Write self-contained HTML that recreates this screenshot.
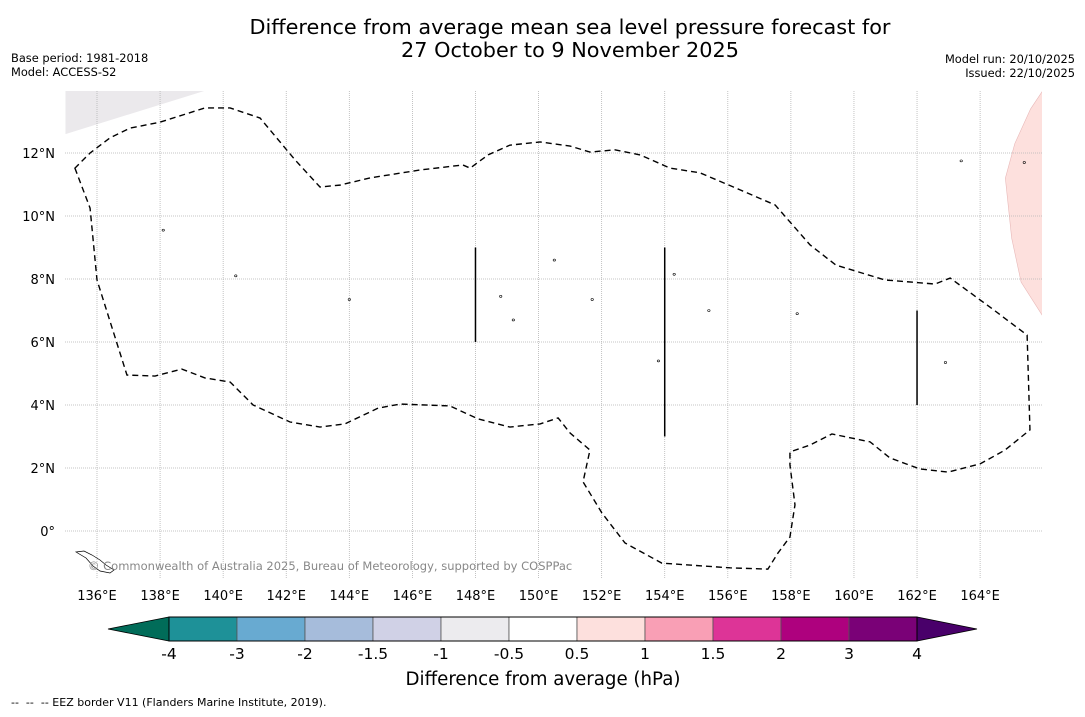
<!DOCTYPE html>
<html><head><meta charset="utf-8">
<style>
html,body{margin:0;padding:0;background:#fff;}
body{width:1085px;height:713px;overflow:hidden;font-family:"DejaVu Sans","Liberation Sans",sans-serif;}
</style></head>
<body>
<svg id="chart" width="1085" height="713" xmlns="http://www.w3.org/2000/svg" font-family="DejaVu Sans, Liberation Sans, sans-serif">
  <text x="570" y="34" font-size="20.8" text-anchor="middle">Difference from average mean sea level pressure forecast for</text>
  <text x="570" y="57" font-size="20.8" text-anchor="middle">27 October to 9 November 2025</text>
  <text x="11" y="62" font-size="11.4">Base period: 1981-2018</text>
  <text x="11" y="76" font-size="11.4">Model: ACCESS-S2</text>
  <text x="1075" y="63" font-size="11.4" text-anchor="end">Model run: 20/10/2025</text>
  <text x="1075" y="77" font-size="11.4" text-anchor="end">Issued: 22/10/2025</text>
  <g id="map"></g>
  <g id="cbar"></g>
  <text x="543" y="685" font-size="18.2" text-anchor="middle">Difference from average (hPa)</text>
  <text x="11" y="706" font-size="11" xml:space="preserve">--  --  -- EEZ border V11 (Flanders Marine Institute, 2019).</text>
</svg>
<script>
const lonTicks=[136,138,140,142,144,146,148,150,152,154,156,158,160,162,164];
const latTicks=[0,2,4,6,8,10,12];
const eezLon=[135.30,135.78,136.00,136.95,137.84,138.69,139.42,140.22,140.95,142.12,143.07,143.86,144.91,145.61,147.19,148.08,149.09,150.05,150.62,151.00,151.63,151.41,152.01,152.74,153.91,156.07,157.27,157.59,157.97,158.13,157.97,157.97,158.61,159.30,160.51,161.14,162.09,162.98,164.00,164.79,165.58,165.49,164.31,163.05,162.57,160.98,159.43,158.61,157.50,156.39,155.12,154.17,153.22,152.42,151.63,151.00,150.05,149.09,148.40,147.83,147.60,146.24,144.66,143.70,143.07,142.28,141.17,140.22,139.42,138.00,137.05,136.41,135.78];
const eezLat=[11.52,10.25,7.97,4.95,4.92,5.14,4.86,4.73,4.00,3.46,3.30,3.40,3.90,4.03,3.97,3.56,3.30,3.40,3.59,3.11,2.57,1.56,0.57,-0.38,-1.02,-1.17,-1.21,-0.70,-0.19,0.83,2.10,2.51,2.73,3.08,2.83,2.32,1.97,1.87,2.13,2.57,3.21,6.22,7.11,8.03,7.84,7.97,8.44,9.08,10.35,10.83,11.37,11.52,11.94,12.10,12.03,12.22,12.35,12.25,11.94,11.52,11.62,11.46,11.21,10.98,10.92,11.78,13.11,13.43,13.43,12.98,12.79,12.48,12.00];
const segLon=[148,154,162];
const segLat0=[6,3,4];
const segLat1=[9,9,7];
const grayLon=[135,139.5,135];
const grayLat=[14,14,12.6];
const pinkLon=[166,165.6,165.1,164.8,165.0,165.3,166];
const pinkLat=[14,13.4,12.3,11.2,9.3,7.9,6.8];
const islandLon=[138.1,140.4,144.0,148.8,150.5,151.7,154.3,155.4,158.2,162.9,163.4,165.4,153.8,149.2];
const islandLat=[9.55,8.1,7.35,7.45,8.6,7.35,8.15,7.0,6.9,5.35,11.75,11.7,5.4,6.7];
const cbBounds=["-4","-3","-2","-1.5","-1","-0.5","0.5","1","1.5","2","3","4"];
const cbColors=["#1e9198","#68aad1","#a6bcdb","#d0d1e6","#ecebee","#ffffff","#fde0dd","#f99fb5","#dd3497","#ae017e","#7a0177"];
const cbUnder="#016c59", cbOver="#49006a";

const X0=65,X1=1042,Y0=91,Y1=578;
const xs=lon=>97+(lon-136)*31.54;
const ys=lat=>531-lat*31.5;
const NS="http://www.w3.org/2000/svg";
function mk(tag,attrs,parent){const e=document.createElementNS(NS,tag);for(const k in attrs)e.setAttribute(k,attrs[k]);parent.appendChild(e);return e;}
const map=document.getElementById('map');
const defs=mk('defs',{},map);
const cp=mk('clipPath',{id:'clip'},defs);
mk('rect',{x:X0,y:Y0,width:X1-X0,height:Y1-Y0},cp);
const inner=mk('g',{'clip-path':'url(#clip)'},map);
let g=mk('polygon',{points:grayLon.map((l,i)=>xs(l)+','+ys(grayLat[i])).join(' '),fill:'#ebe9ec'},inner);


let pk=mk('polygon',{points:pinkLon.map((l,i)=>xs(l)+','+ys(pinkLat[i])).join(' '),fill:'#fde0dd',stroke:'#e8b8b8','stroke-width':0.6},inner);


lonTicks.forEach(l=>{
  const ln=mk('line',{x1:xs(l),x2:xs(l),y1:Y0,y2:Y1,stroke:'#b4b4b4','stroke-width':0.8,'stroke-dasharray':'1,1'},inner);
  
  
  const t=mk('text',{x:xs(l),y:600,'font-size':13,'text-anchor':'middle'},map);t.textContent=l+'°E';
  
  
});
latTicks.forEach(l=>{
  const ln=mk('line',{x1:X0,x2:X1,y1:ys(l),y2:ys(l),stroke:'#b4b4b4','stroke-width':0.8,'stroke-dasharray':'1,1'},inner);
  
  
  const t=mk('text',{x:55,y:ys(l)+5,'font-size':13,'text-anchor':'end'},map);t.textContent=(l===0?'0°':l+'°N');
  
  
});
islandLon.forEach((l,i)=>{
  const c=mk('ellipse',{cx:xs(l),cy:ys(islandLat[i]),rx:1.2,ry:1,fill:'none',stroke:'#000','stroke-width':0.6},inner);
  
  
});
let isl=mk('path',{d:'M76,552 L84,551 L92,555 L100,560 L106,565 L114,570 L110,573 L100,571 L93,566 L86,558 Z',fill:'none',stroke:'#000','stroke-width':0.7},inner);


let eez=mk('polygon',{points:eezLon.map((l,i)=>xs(l)+','+ys(eezLat[i])).join(' '),fill:'none',stroke:'#000','stroke-width':1.4,'stroke-dasharray':'6,4'},inner);


segLon.forEach((l,i)=>{
  const s=mk('line',{x1:xs(l),x2:xs(l),y1:ys(segLat0[i]),y2:ys(segLat1[i]),stroke:'#000','stroke-width':1.5},inner);
  
  
});
let cr=mk('text',{x:88,y:570,'font-size':11.5,fill:'#888'},map);
cr.textContent='© Commonwealth of Australia 2025, Bureau of Meteorology, supported by COSPPac';



const cb=document.getElementById('cbar');
const CB0=169,CBW=68,CY=617,CH=24;
let u=mk('polygon',{points:`${CB0},${CY} ${CB0},${CY+CH} 108,${CY+CH/2}`,fill:cbUnder,stroke:'#000','stroke-width':0.8},cb);


const CEnd=CB0+CBW*cbColors.length;
let o=mk('polygon',{points:`${CEnd},${CY} ${CEnd},${CY+CH} 977,${CY+CH/2}`,fill:cbOver,stroke:'#000','stroke-width':0.8},cb);


cbColors.forEach((c,i)=>{
  const r=mk('rect',{x:CB0+i*CBW,y:CY,width:CBW,height:CH,fill:c,stroke:'#555','stroke-width':0.8},cb);
  
  
});
mk('rect',{x:CB0,y:CY,width:CEnd-CB0,height:CH,fill:'none',stroke:'#000','stroke-width':1},cb);
cbBounds.forEach((b,i)=>{
  const t=mk('text',{x:CB0+i*CBW,y:659,'font-size':15.5,'text-anchor':'middle'},cb);t.textContent=b;
  
  
});
</script>
</body></html>
